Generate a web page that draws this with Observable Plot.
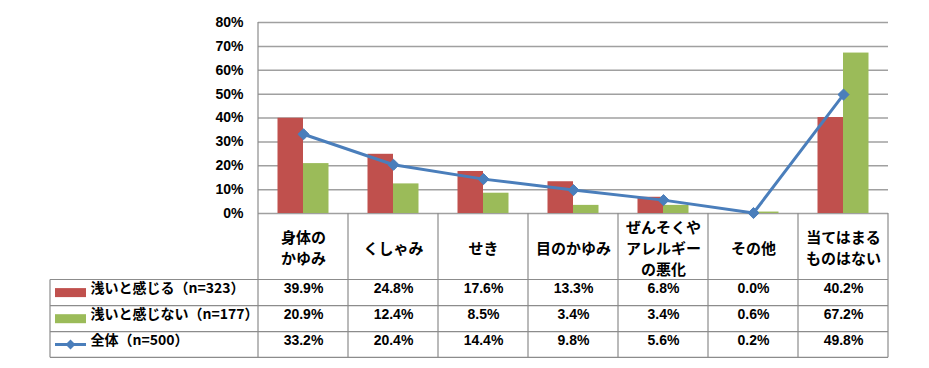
<!DOCTYPE html>
<html>
<head>
<meta charset="utf-8">
<script src="https://cdn.jsdelivr.net/npm/d3@7"></script>
<script src="https://cdn.jsdelivr.net/npm/@observablehq/plot@0.6"></script>
<style>
  html, body { margin: 0; padding: 0; background: #fff; }
  #chart svg { display: block; }
</style>
</head>
<body>
<div id="chart"></div>
<script>
// ---- data ----
const categories = ["身体の\nかゆみ", "くしゃみ", "せき", "目のかゆみ", "ぜんそくや\nアレルギー\nの悪化", "その他", "当てはまる\nものはない"];
const seriesNames = ["浅いと感じる（n=323）", "浅いと感じない（n=177）", "全体（n=500）"];
const feelShallow = [39.9, 24.8, 17.6, 13.3, 6.8, 0.0, 40.2];
const notShallow = [20.9, 12.4, 8.5, 3.4, 3.4, 0.6, 67.2];
const overall = [33.2, 20.4, 14.4, 9.8, 5.6, 0.2, 49.8];
const yTicks = [0, 10, 20, 30, 40, 50, 60, 70, 80];

const RED = "#C0504D", GREEN = "#9BBB59", BLUE = "#4A7EBB";
const GRID = "#a0a0a0", BORDER = "#8c8c8c";
const NUM_FONT = "'Liberation Sans', 'Noto Sans CJK JP', sans-serif";
const JP_FONT = "'Noto Sans CJK JP', sans-serif";

const rowsA = categories.map((c, i) => ({c, v: feelShallow[i]}));
const rowsB = categories.map((c, i) => ({c, v: notShallow[i]}));
const rowsC = categories.map((c, i) => ({c, v: overall[i]}));

// table geometry (offsets below the 0% baseline)
const headerH = 66.5;
const rowEdges = [headerH, headerH + 26.2, headerH + 52.2, headerH + 77.8];
const rowMid = [0, 1, 2].map(k => (rowEdges[k] + rowEdges[k + 1]) / 2);
const legendColW = 208;

function tableMark(index, scales, values, dims) {
  const x = scales.x, y = scales.y;
  const bw = x.bandwidth();
  const top = y(0);
  const left0 = x(categories[0]);
  const right = x(categories[categories.length - 1]) + bw;
  const legLeft = left0 - legendColW;
  const bottom = top + rowEdges[3];
  const g = d3.create("svg:g");
  // horizontal row lines
  for (const e of rowEdges) {
    g.append("line").attr("x1", legLeft).attr("x2", right)
      .attr("y1", top + e).attr("y2", top + e)
      .attr("stroke", BORDER).attr("stroke-width", 1.2);
  }
  // vertical column lines
  const bounds = categories.map(c => x(c)).concat([right]);
  bounds.forEach((bx, i) => {
    g.append("line").attr("x1", bx).attr("x2", bx)
      .attr("y1", i === 0 ? y(80) : top).attr("y2", bottom)
      .attr("stroke", BORDER).attr("stroke-width", 1.2);
  });
  g.append("line").attr("x1", legLeft).attr("x2", legLeft)
    .attr("y1", top + rowEdges[0]).attr("y2", bottom)
    .attr("stroke", BORDER).attr("stroke-width", 1.2);
  // legend swatches
  const sx = legLeft + 5, sw = 31;
  g.append("rect").attr("x", sx).attr("width", sw).attr("y", top + rowMid[0] - 4.5).attr("height", 9).attr("fill", RED);
  g.append("rect").attr("x", sx).attr("width", sw).attr("y", top + rowMid[1] - 4.5).attr("height", 9).attr("fill", GREEN);
  const ly = top + rowMid[2];
  g.append("line").attr("x1", sx).attr("x2", sx + sw).attr("y1", ly).attr("y2", ly)
    .attr("stroke", BLUE).attr("stroke-width", 3);
  const cx = sx + sw / 2, d = 5;
  g.append("path").attr("d", `M${cx},${ly - d}L${cx + d},${ly}L${cx},${ly + d}L${cx - d},${ly}Z`).attr("fill", BLUE);
  return g.node();
}

const fmt = v => v.toFixed(1) + "%";

const chart = Plot.plot({
  width: 929,
  height: 368,
  marginLeft: 258,
  marginRight: 41,
  marginTop: 22,
  marginBottom: 155,
  style: {fontFamily: NUM_FONT, fontSize: "14px", fontWeight: "bold", color: "#000", background: "#fff"},
  x: {type: "band", domain: categories, padding: 0, axis: null},
  y: {domain: [0, 80], ticks: yTicks, tickFormat: d => d + "%", tickSize: 0, tickPadding: 15, label: null},
  marks: [
    Plot.ruleY(yTicks, {stroke: GRID, strokeWidth: 1.5}),
    Plot.barY(rowsA, {x: "c", y: "v", fill: RED, insetLeft: 19.5, insetRight: 45}),
    Plot.barY(rowsB, {x: "c", y: "v", fill: GREEN, insetLeft: 45, insetRight: 19.5}),
    Plot.line(rowsC, {x: "c", y: "v", stroke: BLUE, strokeWidth: 3}),
    Plot.dot(rowsC, {x: "c", y: "v", symbol: "diamond2", r: 5, fill: BLUE, stroke: BLUE, strokeWidth: 1}),
    tableMark,
    // header labels
    Plot.text(categories, {x: d => d, text: d => d, frameAnchor: "bottom", dy: headerH / 2 + 0.5, lineAnchor: "middle", lineHeight: 1.4, fontFamily: JP_FONT, fontSize: 15, fontWeight: "bold"}),
    // values
    Plot.text(rowsA, {x: "c", text: d => fmt(d.v), frameAnchor: "bottom", dy: rowMid[0], fontSize: 14}),
    Plot.text(rowsB, {x: "c", text: d => fmt(d.v), frameAnchor: "bottom", dy: rowMid[1], fontSize: 14}),
    Plot.text(rowsC, {x: "c", text: d => fmt(d.v), frameAnchor: "bottom", dy: rowMid[2], fontSize: 14}),
    // legend names
    Plot.text([seriesNames[0]], {text: d => d, frameAnchor: "bottom-left", dx: -legendColW + 40, dy: rowMid[0], textAnchor: "start", fontFamily: JP_FONT, fontSize: 14, fontWeight: "bold"}),
    Plot.text([seriesNames[1]], {text: d => d, frameAnchor: "bottom-left", dx: -legendColW + 40, dy: rowMid[1], textAnchor: "start", fontFamily: JP_FONT, fontSize: 14, fontWeight: "bold"}),
    Plot.text([seriesNames[2]], {text: d => d, frameAnchor: "bottom-left", dx: -legendColW + 40, dy: rowMid[2], textAnchor: "start", fontFamily: JP_FONT, fontSize: 14, fontWeight: "bold"})
  ]
});
document.getElementById("chart").append(chart);
</script>
</body>
</html>
